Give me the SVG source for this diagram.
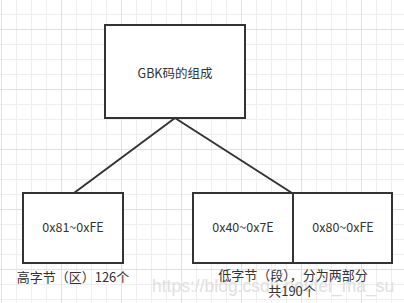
<svg xmlns="http://www.w3.org/2000/svg" width="404" height="303" viewBox="0 0 404 303">
<defs>
<pattern id="grid" x="1" y="29" width="60" height="60" patternUnits="userSpaceOnUse">
<rect x="0" y="0" width="60" height="60" fill="#ffffff"/>
<g fill="#eeeeee">
<rect x="15" y="0" width="1" height="60"/><rect x="30" y="0" width="1" height="60"/><rect x="45" y="0" width="1" height="60"/>
<rect x="0" y="15" width="60" height="1"/><rect x="0" y="30" width="60" height="1"/><rect x="0" y="45" width="60" height="1"/>
</g>
<g fill="#e0e0e0">
<rect x="0" y="0" width="1" height="60"/><rect x="0" y="0" width="60" height="1"/>
</g>
</pattern>
<style>
.box{fill:#ffffff;stroke:#333333;stroke-width:2}
.t{font-family:"Noto Sans CJK SC","Liberation Sans",sans-serif;font-size:12.5px;fill:#333333;text-anchor:middle}
.lb{font-size:13px}
.edge{stroke:#333333;stroke-width:2;fill:none}
.wm{font-family:"Liberation Sans",Arial,sans-serif;font-size:17.5px;fill:#e0e0e0}
</style>
</defs>
<rect x="0" y="0" width="404" height="303" fill="url(#grid)"/>
<g id="connectors">
<line class="edge" x1="175" y1="118" x2="74" y2="193"/>
<line class="edge" x1="175" y1="118" x2="292" y2="193"/>
</g>
<g id="root">
<rect class="box" x="105" y="25" width="140" height="93"/>
<text class="t" x="175" y="78">GBK码的组成</text>
</g>
<g id="high">
<rect class="box" x="23" y="193" width="100" height="70"/>
<text class="t" x="73" y="232">0x81~0xFE</text>
</g>
<g id="low1">
<rect class="box" x="193" y="193" width="100" height="70"/>
<text class="t" x="243" y="232">0x40~0x7E</text>
</g>
<g id="low2">
<rect class="box" x="293" y="193" width="99" height="70"/>
<text class="t" x="343" y="232">0x80~0xFE</text>
</g>
<text class="wm" x="152" y="292">https://blog.csdn.net/fei_ma_su</text>
<g id="labels">
<text class="t lb" x="73" y="282">高字节（区）126个</text>
<text class="t lb" x="293" y="280">低字节（段），分为两部分</text>
<text class="t lb" x="292" y="296">共190个</text>
</g>
</svg>
